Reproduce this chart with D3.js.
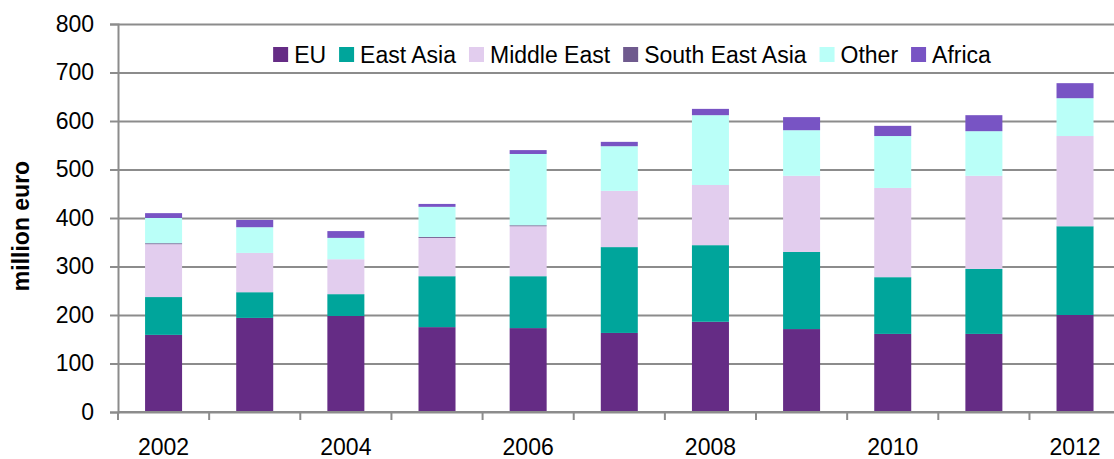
<!DOCTYPE html>
<html>
<head>
<meta charset="utf-8">
<script src="https://cdn.jsdelivr.net/npm/d3@7"></script>
<style>
  html, body { margin: 0; padding: 0; background: #fff; }
  svg { display: block; }
</style>
</head>
<body>
<svg id="chart" width="1114" height="459"></svg>
<script>
// data (million euro)
const years = ["2002", "2003", "2004", "2005", "2006", "2007", "2008", "2009", "2010", "2011", "2012"];
const tickYears = ["2002", "2004", "2006", "2008", "2010", "2012"];
const seriesNames = ["EU", "East Asia", "Middle East", "South East Asia", "Other", "Africa"];
const eu          = [159, 194, 198, 175, 173, 163, 186, 171, 161, 161, 200];
const eastAsia    = [78, 53, 45, 105, 107, 177, 158, 159, 117, 134, 183];
const middleEast  = [109, 81, 72, 79, 103, 116, 124, 157, 184, 192, 186];
const southEastAsia = [2, 0, 0, 2, 2, 0, 0, 0, 0, 0, 0];
const other       = [52, 53, 44, 62, 147, 92, 144, 94, 107, 92, 78];
const africa      = [10, 15, 14, 6, 8, 9, 13, 27, 21, 33, 31];
const yTicks = [0, 100, 200, 300, 400, 500, 600, 700, 800];

const colors = ["#652c85", "#00a59b", "#e2cdee", "#6f5a8e", "#bafff8", "#7854c4"];

const svg = d3.select("#chart");
const margin = { top: 24, left: 118, bottom: 47 },
    plotRight = 1120.6,
    height = 459 - margin.top - margin.bottom;

const fontFamily = "'Liberation Sans', Arial, sans-serif";
const gridColor = "#8c8c8c";

const table = years.map((y, i) => ({
    year: y,
    "EU": eu[i],
    "East Asia": eastAsia[i],
    "Middle East": middleEast[i],
    "South East Asia": southEastAsia[i],
    "Other": other[i],
    "Africa": africa[i]
}));

const stacked = d3.stack().keys(seriesNames)(table);

const x = d3.scaleBand()
    .domain(years)
    .range([margin.left, plotRight])
    .paddingInner(0.594)
    .paddingOuter(0.297);

const y = d3.scaleLinear()
    .domain([0, 800])
    .range([margin.top + height, margin.top]);

const color = d3.scaleOrdinal().domain(seriesNames).range(colors);

// gridlines
svg.append("g")
    .attr("transform", `translate(${margin.left},0)`)
    .call(d3.axisLeft(y).tickValues(yTicks).tickSize(-(plotRight - margin.left)).tickFormat(""))
    .call(g => g.select(".domain").remove())
    .call(g => g.selectAll("line").attr("stroke", gridColor).attr("stroke-width", 2));

// y axis
svg.append("g")
    .attr("transform", `translate(${margin.left},0)`)
    .call(d3.axisLeft(y).tickValues(yTicks).tickSize(8).tickPadding(16))
    .call(g => g.select(".domain").attr("stroke", gridColor).attr("stroke-width", 2))
    .call(g => g.selectAll("line").attr("stroke", gridColor).attr("stroke-width", 2))
    .call(g => g.selectAll("text")
        .style("font-family", fontFamily)
        .style("font-size", "23px")
        .style("fill", "#000"));

// bars
svg.append("g")
    .selectAll("g")
    .data(stacked)
    .join("g")
    .attr("fill", d => color(d.key))
    .selectAll("rect")
    .data(d => d)
    .join("rect")
    .attr("x", d => x(d.data.year))
    .attr("width", x.bandwidth())
    .attr("y", d => y(d[1]))
    .attr("height", d => y(d[0]) - y(d[1]));

// x axis: ticks on band boundaries, labels on even years
const xAxisG = svg.append("g")
    .attr("transform", `translate(0,${margin.top + height})`);

xAxisG.append("line")
    .attr("x1", margin.left)
    .attr("x2", plotRight)
    .attr("stroke", gridColor)
    .attr("stroke-width", 2);

xAxisG.selectAll("line.tick")
    .data(years.concat(["end"]))
    .join("line")
    .attr("class", "tick")
    .attr("x1", (d, i) => margin.left + i * x.step())
    .attr("x2", (d, i) => margin.left + i * x.step())
    .attr("y1", 0)
    .attr("y2", 8)
    .attr("stroke", gridColor)
    .attr("stroke-width", 2);

xAxisG.selectAll("text")
    .data(tickYears)
    .join("text")
    .attr("x", d => x(d) + x.bandwidth() / 2)
    .attr("y", 43)
    .attr("text-anchor", "middle")
    .style("font-family", fontFamily)
    .style("font-size", "23px")
    .style("fill", "#000")
    .text(d => d);

// y axis title
svg.append("text")
    .attr("transform", "rotate(-90)")
    .attr("x", -226)
    .attr("y", 29)
    .attr("text-anchor", "middle")
    .style("font-family", fontFamily)
    .style("font-size", "23px")
    .style("font-weight", "bold")
    .text("million euro");

// legend
const legend = svg.append("g");
let cursor = 0;
const items = legend.selectAll("g")
    .data(seriesNames)
    .join("g");

items.append("rect")
    .attr("y", -8)
    .attr("width", 15)
    .attr("height", 15)
    .attr("fill", d => color(d));

items.append("text")
    .attr("x", 21)
    .attr("y", 8)
    .style("font-family", fontFamily)
    .style("font-size", "23px")
    .style("fill", "#000")
    .text(d => d);

items.each(function () {
    const g = d3.select(this);
    g.attr("transform", `translate(${cursor},0)`);
    cursor += 21 + g.select("text").node().getComputedTextLength() + 13;
});
const legendWidth = cursor - 13;
legend.attr("transform", `translate(${632 - legendWidth / 2},55)`);
</script>
</body>
</html>
